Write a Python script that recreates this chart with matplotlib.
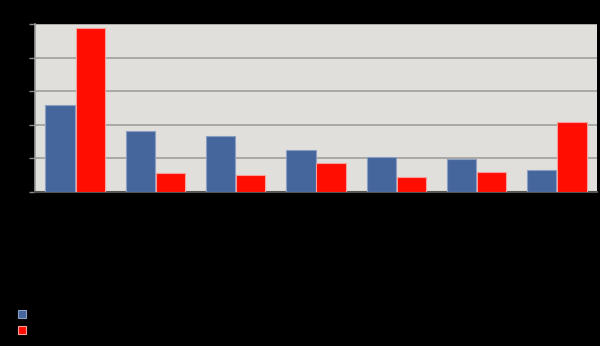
import matplotlib
matplotlib.use("Agg")
import matplotlib.pyplot as plt
import numpy as np
from matplotlib.patches import Patch

categories = ["Category 1", "Category 2", "Category 3", "Category 4",
              "Category 5", "Category 6", "Category 7"]
series_names = ["Series 1", "Series 2"]
blue_vals = [2.59, 1.82, 1.67, 1.24, 1.04, 0.98, 0.65]
red_vals = [4.88, 0.56, 0.50, 0.87, 0.44, 0.60, 2.09]
yticks = [0, 1, 2, 3, 4, 5]

BLUE = "#45659d"
RED = "#ff0d00"
BG = "#e0dfdc"
GRID = "#a19f9c"

fig = plt.figure(figsize=(6.0, 3.46), dpi=100, facecolor="black")
ax = fig.add_axes([35/600, 1-192/346, (597-35)/600, (192-24)/346])
ax.set_facecolor(BG)

x = np.arange(len(categories))
w = 0.365
ax.bar(x - w/2 - 0.005, blue_vals, width=w, color=BLUE, edgecolor="#8a9ec2",
       linewidth=0.8, zorder=3)
ax.bar(x + w/2 + 0.005, red_vals, width=w, color=RED, edgecolor="#f5a09a",
       linewidth=0.8, zorder=3)

ax.set_xlim(-0.5, len(categories) - 0.5)
ax.set_ylim(0, 5)
ax.set_yticks(yticks)
ax.set_yticklabels([str(v) for v in yticks], color="black", fontsize=8)
ax.yaxis.grid(True, color=GRID, linewidth=1.2, zorder=0)
ax.set_axisbelow(True)
ax.set_xticks(x)
ax.set_xticklabels(categories, color="black", fontsize=8, rotation=45, ha="right")
ax.tick_params(axis="x", length=0)
ax.tick_params(axis="y", color="#888888", length=4, width=1)

for side in ["top", "right"]:
    ax.spines[side].set_visible(False)
ax.spines["left"].set_color("#999999")
ax.spines["left"].set_linewidth(1.2)
ax.spines["bottom"].set_color("#555555")
ax.spines["bottom"].set_linewidth(1.5)

handles = [Patch(facecolor=BLUE, edgecolor="#8a9ec2", linewidth=0.8),
           Patch(facecolor=RED, edgecolor="#f5a09a", linewidth=0.8)]
fig.legend(handles, series_names, loc="upper left",
           bbox_to_anchor=(0.013, 1-300/346), frameon=False,
           handlelength=0.75, handleheight=0.75, fontsize=8,
           labelcolor="black", labelspacing=0.55, handletextpad=0.6)

fig.savefig("out.png", dpi=100, facecolor="black")
